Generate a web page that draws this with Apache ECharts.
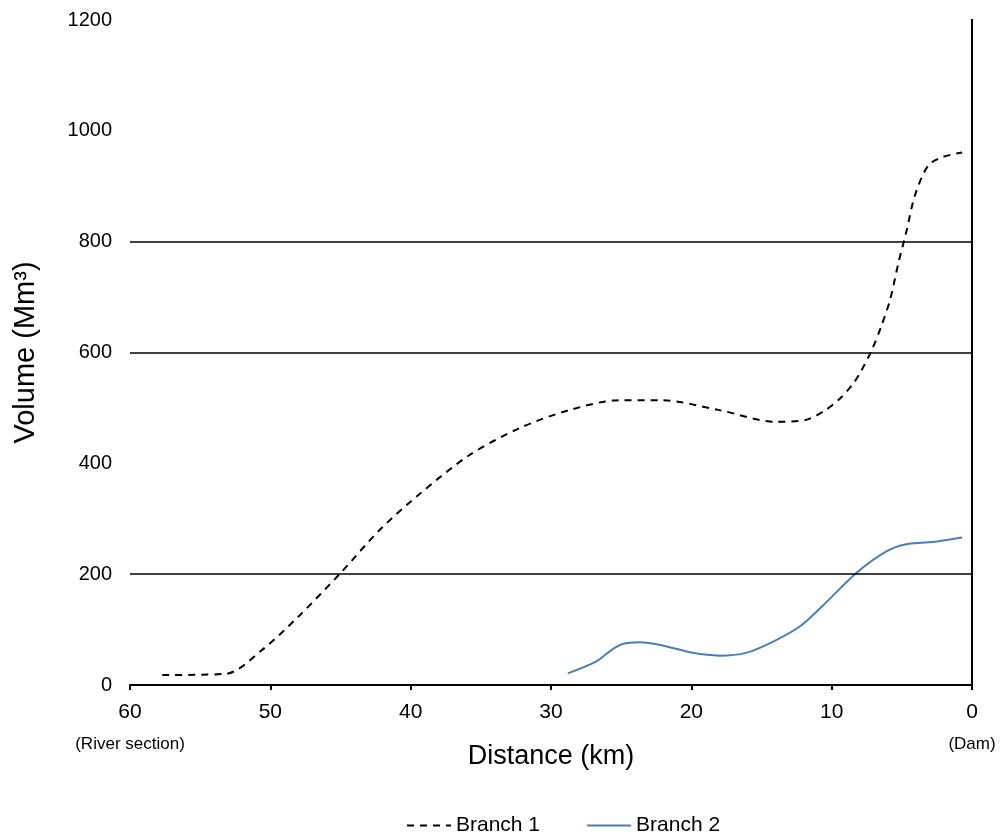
<!DOCTYPE html>
<html>
<head>
<meta charset="utf-8">
<script src="https://cdn.jsdelivr.net/npm/echarts@6/dist/echarts.min.js"></script>
<style>
  html, body { margin: 0; padding: 0; background: #fff; }
  #chart { width: 1007px; height: 833px; }
</style>
</head>
<body>
<div id="chart"></div>
<script>
// Distance from the dam (km) and stored volume (Mm³) along each branch
const branch1Km  = [57.7, 53.2, 50.6, 47.9, 45.0, 42.2, 39.3, 35.8, 32.2, 28.7, 25.1, 22.2, 18.0, 14.0, 11.9, 10.5, 9.4, 8.46, 7.87, 7.15, 6.47, 5.84, 5.25, 4.65, 4.06, 3.1, 2.05, 0.7];
const branch1Vol = [18, 20, 63, 126, 202, 280, 346, 415, 464, 496, 514, 514, 496, 475, 478, 495, 517, 544, 568, 604, 647, 695, 761, 821, 884, 938, 953, 961];

const branch2Km  = [28.8, 26.8, 25.7, 24.9, 23.7, 22.0, 19.9, 18.0, 16.1, 14.2, 12.3, 10.6, 8.2, 6.1, 4.7, 2.5, 0.7];
const branch2Vol = [21, 42, 63, 74, 77, 71, 58, 53, 58, 78, 105, 144, 203, 241, 254, 259, 266];

// Horizontal reference lines and axis ticks
const refLevels = [200, 600, 800];
const yTicks = [0, 200, 400, 600, 800, 1000, 1200];

const pairs = (xs, ys) => xs.map((x, i) => [x, ys[i]]);

const font = 'Liberation Sans, Arial, sans-serif';
const chart = echarts.init(document.getElementById('chart'));

chart.setOption({
  animation: false,
  backgroundColor: '#ffffff',
  grid: { left: 130, right: 35, top: 20, bottom: 148, containLabel: false },
  legend: {
    top: 810,
    left: 401,
    itemWidth: 44,
    itemHeight: 12,
    itemGap: 46,
    itemStyle: { opacity: 0 },
    textStyle: { fontFamily: font, fontSize: 21, color: '#000' },
    data: ['Branch 1', 'Branch 2']
  },
  xAxis: {
    type: 'value',
    inverse: true,
    min: 0,
    max: 60,
    interval: 10,
    name: 'Distance (km)',
    nameLocation: 'middle',
    nameGap: 58,
    nameMoveOverlap: false,
    nameTextStyle: { fontFamily: font, fontSize: 27, color: '#000' },
    axisLine: { show: true, onZero: false, lineStyle: { color: '#000', width: 2 } },
    axisTick: { show: true, length: 5, lineStyle: { color: '#000', width: 2 } },
    splitLine: { show: false },
    axisLabel: {
      color: '#000',
      fontFamily: font,
      fontSize: 21,
      margin: 11,
      lineHeight: 32,
      formatter: function (v) {
        if (v === 60) return v + '\n{sub|(River section)}';
        if (v === 0) return v + '\n{sub|(Dam)}';
        return String(v);
      },
      rich: {
        sub: { fontFamily: font, fontSize: 17, color: '#000', lineHeight: 32 }
      }
    }
  },
  yAxis: [
    {
      type: 'value',
      min: 0,
      max: 1200,
      interval: 200,
      name: 'Volume (Mm³)',
      nameLocation: 'middle',
      nameGap: 90,
      nameRotate: 90,
      nameMoveOverlap: false,
      nameTextStyle: { fontFamily: font, fontSize: 29, color: '#000' },
      axisLine: { show: true, lineStyle: { color: '#000', width: 2 } },
      axisTick: { show: false },
      splitLine: { show: false },
      axisLabel: {
        color: '#000',
        fontFamily: font,
        fontSize: 20,
        margin: 18,
        formatter: v => (yTicks.includes(v) ? String(v) : '')
      }
    },
    {
      type: 'value',
      position: 'right',
      min: 0,
      max: 1200,
      interval: 200,
      axisLine: { show: true, lineStyle: { color: '#000', width: 2 } },
      axisTick: { show: false },
      axisLabel: { show: false },
      splitLine: { show: false }
    }
  ],
  series: [
    {
      name: 'Branch 1',
      type: 'line',
      smooth: 0.3,
      symbol: 'none',
      color: '#000',
      lineStyle: { color: '#000', width: 2, type: [7, 6] },
      data: pairs(branch1Km, branch1Vol),
      markLine: {
        silent: true,
        symbol: ['none', 'none'],
        label: { show: false },
        lineStyle: { color: '#000', width: 1.5, type: 'solid' },
        data: refLevels.map(v => ({ yAxis: v }))
      },
      z: 3
    },
    {
      name: 'Branch 2',
      type: 'line',
      smooth: 0.3,
      symbol: 'none',
      color: '#4a7ebb',
      lineStyle: { color: '#4a7ebb', width: 2 },
      data: pairs(branch2Km, branch2Vol),
      z: 3
    }
  ]
});
</script>
</body>
</html>
